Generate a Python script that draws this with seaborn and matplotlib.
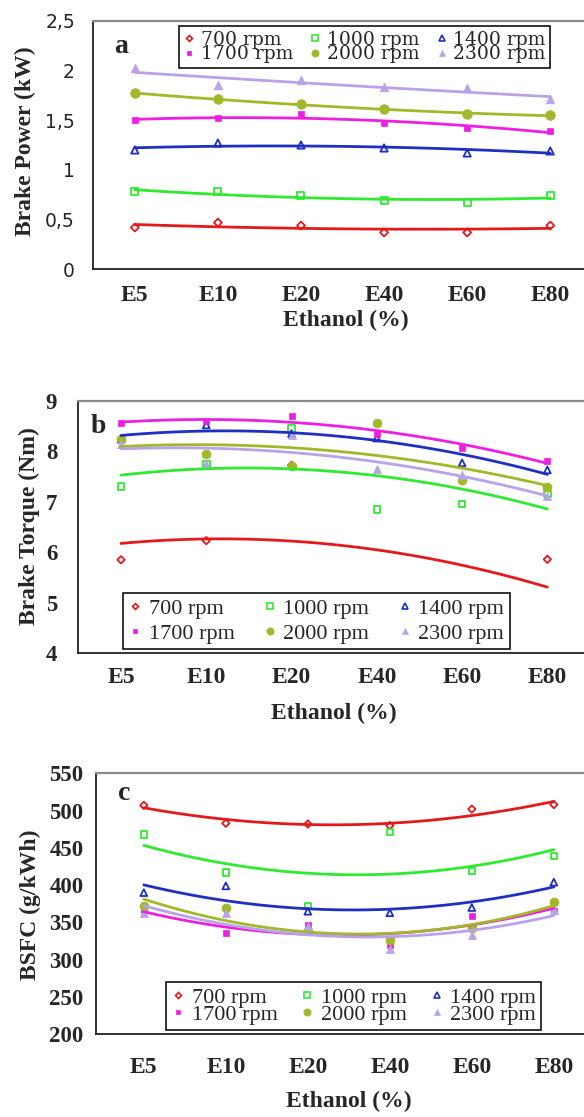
"""
Brake power, brake torque and BSFC vs. ethanol blend for six engine speeds
"""
import numpy as np
import matplotlib
matplotlib.use("Agg")
from matplotlib import pyplot as plt
from matplotlib.lines import Line2D
import seaborn as sns

fuels = ["E5", "E10", "E20", "E40", "E60", "E80"]
speeds = ["700 rpm", "1000 rpm", "1400 rpm", "1700 rpm", "2000 rpm", "2300 rpm"]

# (a) brake power, kW
power_700 = [0.42, 0.47, 0.44, 0.37, 0.37, 0.44]
power_1000 = [0.78, 0.78, 0.74, 0.69, 0.67, 0.74]
power_1400 = [1.20, 1.27, 1.25, 1.22, 1.17, 1.19]
power_1700 = [1.50, 1.52, 1.56, 1.47, 1.42, 1.39]
power_2000 = [1.77, 1.71, 1.66, 1.61, 1.56, 1.55]
power_2300 = [2.02, 1.85, 1.90, 1.83, 1.82, 1.71]
power_ticks = [0, 0.5, 1, 1.5, 2, 2.5]
power_tick_labels = ["0", "0,5", "1", "1,5", "2", "2,5"]

# (b) brake torque, Nm
torque_700 = [5.85, 6.23, 7.72, 5.00, 5.10, 5.86]
torque_1000 = [7.30, 7.74, 8.45, 6.85, 6.96, 7.15]
torque_1400 = [8.24, 8.52, 8.35, 8.26, 7.77, 7.63]
torque_1700 = [8.56, 8.60, 8.70, 8.35, 8.06, 7.81]
torque_2000 = [8.25, 7.94, 7.71, 8.55, 7.44, 7.30]
torque_2300 = [8.15, 7.74, 8.32, 7.64, 7.53, 7.11]
torque_ticks = [4, 5, 6, 7, 8, 9]

# (c) BSFC, g/kWh
bsfc_700 = [507, 483, 482, 480, 502, 508]
bsfc_1000 = [468, 417, 372, 471, 419, 439]
bsfc_1400 = [390, 399, 365, 363, 370, 404]
bsfc_1700 = [367, 336, 346, 320, 359, 365]
bsfc_2000 = [372, 369, 338, 327, 342, 378]
bsfc_2300 = [362, 362, 345, 314, 333, 367]
bsfc_ticks = [200, 250, 300, 350, 400, 450, 500, 550]

W, H = 584, 1117

# colour, marker, open marker?, marker size
styles = [
    ("#E3191C", "D", True, 14),
    ("#2FEA2F", "s", True, 22),
    ("#1F2FC0", "^", True, 24),
    ("#EE1FE0", "s", False, 20),
    ("#A2B82A", "o", False, 42),
    ("#B9A3E8", "^", False, 34),
]


def draw(ax, series, big=1.0):
    x = np.arange(len(fuels))
    for vals, (col, mk, hollow, s) in zip(series, styles):
        sk = dict(s=s * big, alpha=1, zorder=1)
        if hollow:
            sk.update(facecolors="none", edgecolors=col, linewidths=1.3)
        else:
            sk.update(facecolors=col, edgecolors=col, linewidths=0.5)
        sns.regplot(x=x, y=vals, ax=ax, order=2, ci=None, color=col, marker=mk,
                    scatter_kws=sk, line_kws=dict(lw=2.0, zorder=2))


def frame(ax, tick_len):
    ax.spines['right'].set_visible(False)
    ax.spines['top'].set_color("#8a8a8a")
    ax.spines['top'].set_linewidth(1.6)
    for s in ['left', 'bottom']:
        ax.spines[s].set_color("#222222")
        ax.spines[s].set_linewidth(1.3)
    ax.tick_params(axis='x', length=0)
    ax.tick_params(axis='y', length=tick_len, width=1.0, direction='out', color="#222222")
    ax.set_xticks(np.arange(len(fuels)))
    ax.set_xticklabels(fuels, fontfamily="Liberation Serif", fontweight="bold", fontsize=17)


def legend(ax, bx, by, fsize, family, spacing, colsp):
    handles = []
    for (col, mk, hollow, s) in styles:
        handles.append(Line2D([], [], ls="none", marker=mk, markersize=np.sqrt(s) * 0.8,
                              markerfacecolor="none" if hollow else col,
                              markeredgecolor=col, markeredgewidth=1.2 if hollow else 0.5))
    order = [0, 3, 1, 4, 2, 5]
    leg = ax.legend([handles[i] for i in order], [speeds[i] for i in order], ncol=3,
                    loc="upper left", bbox_to_anchor=(bx / W, 1 - by / H),
                    bbox_transform=ax.figure.transFigure, borderaxespad=0,
                    prop=dict(family=family, size=fsize), labelspacing=spacing,
                    columnspacing=colsp, handlelength=0.6, handletextpad=0.3,
                    borderpad=0.25, fancybox=False, framealpha=1, edgecolor="#111111")
    leg.get_frame().set_linewidth(1.2)
    leg.set_zorder(10)


def plot():
    sns.set_style("white")
    fig = plt.figure(figsize=(W / 100, H / 100), dpi=100)

    # ---- (a)
    ax = fig.add_axes([93 / W, 1 - 269.3 / H, (W - 93) / W, 248.6 / H])
    draw(ax, [power_700, power_1000, power_1400, power_1700, power_2000, power_2300], big=1.15)
    ax.set_ylim(0, 2.5)
    ax.set_xlim(-0.503, 5.406)
    frame(ax, 9)
    ax.set_yticks(power_ticks)
    ax.set_yticklabels(power_tick_labels, fontfamily="DejaVu Sans", fontsize=13.5)
    ax.tick_params(axis='x', pad=11)
    ax.tick_params(axis='y', pad=4)
    ax.set_xlabel("Ethanol (%)", fontfamily="Liberation Serif", fontweight="bold", fontsize=17)
    ax.xaxis.set_label_coords(0.515, -0.165)
    ax.set_ylabel("Brake Power (kW)", fontfamily="Liberation Serif", fontweight="bold", fontsize=17)
    ax.yaxis.set_label_coords(-0.116, 0.516)
    legend(ax, 179, 26, 13.5, "DejaVu Serif", -0.18, 0.9)
    fig.text(114 / W, 1 - 53 / H, "a", fontfamily="Liberation Serif", fontweight="bold",
             fontsize=20, va="baseline")

    # ---- (b)
    ax = fig.add_axes([78.2 / W, 1 - 653.3 / H, (W - 78.2) / W, 252.6 / H])
    draw(ax, [torque_700, torque_1000, torque_1400, torque_1700, torque_2000, torque_2300])
    ax.set_ylim(4, 9)
    ax.set_xlim(-0.502, 5.43)
    frame(ax, 10)
    ax.set_yticks(torque_ticks)
    ax.set_yticklabels([str(t) for t in torque_ticks], fontfamily="Liberation Serif",
                       fontweight="bold", fontsize=16.5)
    ax.tick_params(axis='x', pad=10)
    ax.tick_params(axis='y', pad=5)
    ax.set_xlabel("Ethanol (%)", fontfamily="Liberation Serif", fontweight="bold", fontsize=17)
    ax.xaxis.set_label_coords(0.505, -0.195)
    ax.set_ylabel("Brake Torque (Nm)", fontfamily="Liberation Serif", fontweight="bold", fontsize=17)
    ax.yaxis.set_label_coords(-0.0755, 0.504)
    legend(ax, 123, 592.7, 16, "Liberation Serif", 0.2, 1.3)
    fig.text(91 / W, 1 - 433 / H, "b", fontfamily="Liberation Serif", fontweight="bold",
             fontsize=20, va="baseline")

    # ---- (c)
    ax = fig.add_axes([96 / W, 1 - 1034.3 / H, (W - 96) / W, 261 / H])
    draw(ax, [bsfc_700, bsfc_1000, bsfc_1400, bsfc_1700, bsfc_2000, bsfc_2300])
    ax.set_ylim(200, 550)
    ax.set_xlim(-0.583, 5.368)
    frame(ax, 7)
    ax.set_yticks(bsfc_ticks)
    ax.set_yticklabels([str(t) for t in bsfc_ticks], fontfamily="Liberation Serif",
                       fontweight="bold", fontsize=16.5)
    ax.tick_params(axis='x', pad=16)
    ax.tick_params(axis='y', pad=2)
    ax.set_xlabel("Ethanol (%)", fontfamily="Liberation Serif", fontweight="bold", fontsize=17)
    ax.xaxis.set_label_coords(0.518, -0.215)
    ax.set_ylabel("BSFC (g/kWh)", fontfamily="Liberation Serif", fontweight="bold", fontsize=17)
    ax.yaxis.set_label_coords(-0.1127, 0.495)
    legend(ax, 166, 982, 16, "Liberation Serif", -0.18, 1.05)
    fig.text(118 / W, 1 - 800 / H, "c", fontfamily="Liberation Serif", fontweight="bold",
             fontsize=20, va="baseline")

    fig.savefig("out.png", dpi=100)


if __name__ == "__main__":
    plot()
